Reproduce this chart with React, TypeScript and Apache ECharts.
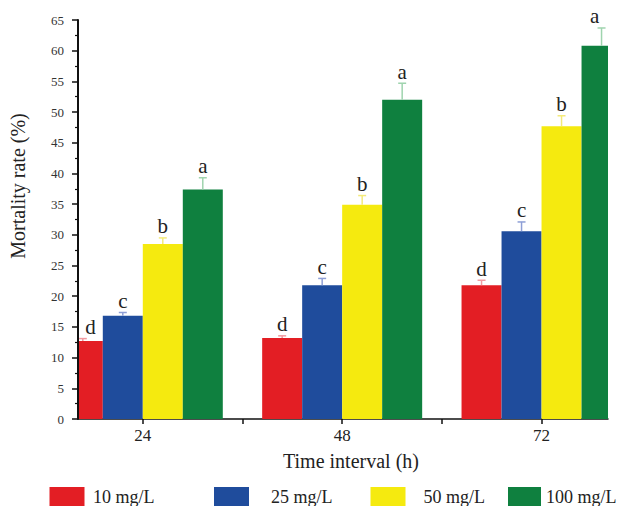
import React, { useEffect, useRef } from "react";
import * as echarts from "echarts";

const categories = [24, 48, 72];
const seriesNames = ["10 mg/L", "25 mg/L", "50 mg/L", "100 mg/L"];
const values10 = [12.7, 13.2, 21.8];
const values25 = [16.8, 21.8, 30.6];
const values50 = [28.5, 34.9, 47.7];
const values100 = [37.4, 52.0, 60.8];
const errors10 = [0.4, 0.35, 0.8];
const errors25 = [0.55, 1.1, 1.5];
const errors50 = [1.0, 1.5, 1.7];
const errors100 = [1.9, 2.7, 2.9];
const letters10 = ["d", "d", "d"];
const letters25 = ["c", "c", "c"];
const letters50 = ["b", "b", "b"];
const letters100 = ["a", "a", "a"];
const yTicks = { min: 0, max: 65, interval: 5 };
const xLabelValues = [24, 48, 72];
const xTickValues = [24, 36, 48, 60, 72];

const allValues = [values10, values25, values50, values100];
const allErrors = [errors10, errors25, errors50, errors100];
const allLetters = [letters10, letters25, letters50, letters100];
const barColors = ["#e31e24", "#1f4c9c", "#f5ea0f", "#0f803f"];
const errColors = ["#f19aa0", "#8e9fd6", "#f3ea7a", "#9fd4ae"];
const offsets = [-60, -20, 20, 60];
const BAR_W = 40;
const serif = "'Liberation Serif', 'Times New Roman', serif";

export default function App() {
  const ref = useRef<HTMLDivElement>(null);
  useEffect(() => {
    if (!ref.current) return;
    const chart = echarts.init(ref.current, null, { renderer: "svg" });

    const barSeries = seriesNames.map((name, s) => ({
      name,
      type: "custom",
      clip: true,
      z: 2,
      itemStyle: { color: barColors[s] },
      data: categories.map((c, i) => [c, allValues[s][i]]),
      renderItem: (params: any, api: any) => {
        const x = api.value(0);
        const y = api.value(1);
        const base = api.coord([x, 0]);
        const top = api.coord([x, y]);
        const cx = base[0] + offsets[s];
        return {
          type: "rect",
          shape: { x: cx - BAR_W / 2, y: top[1], width: BAR_W, height: base[1] - top[1] },
          style: { fill: barColors[s] },
        };
      },
    }));

    const errSeries = seriesNames.map((name, s) => ({
      name: name + " err",
      type: "custom",
      clip: false,
      z: 5,
      data: categories.map((c, i) => [c, allValues[s][i], allErrors[s][i]]),
      renderItem: (params: any, api: any) => {
        const x = api.value(0);
        const y = api.value(1);
        const e = api.value(2);
        const base = api.coord([x, y]);
        const top = api.coord([x, y + e]);
        const cx = base[0] + offsets[s];
        const left = Math.max(cx - BAR_W / 2, params.coordSys.x);
        const right = Math.min(cx + BAR_W / 2, params.coordSys.x + params.coordSys.width);
        const lx = (left + right) / 2;
        const letter = allLetters[s][params.dataIndex];
        return {
          type: "group",
          children: [
            {
              type: "line",
              shape: { x1: cx, y1: base[1], x2: cx, y2: top[1] },
              style: { stroke: errColors[s], lineWidth: 1.5 },
            },
            {
              type: "line",
              shape: { x1: cx - 4, y1: top[1], x2: cx + 4, y2: top[1] },
              style: { stroke: errColors[s], lineWidth: 1.5 },
            },
            {
              type: "text",
              x: lx,
              y: top[1] - 1,
              style: {
                text: letter,
                align: "center",
                verticalAlign: "bottom",
                fontSize: 21,
                fontFamily: serif,
                fill: "#222",
              },
            },
          ],
        };
      },
    }));

    const legendLefts = [49.5, 214, 370.5, 508];
    const legendWidths = [35, 35, 35, 33];
    const legendPads = [3.5, 17, 13, 0];

    chart.setOption({
      animation: false,
      backgroundColor: "#ffffff",
      grid: { left: 78, right: 9, top: 20, bottom: 87 },
      legend: seriesNames.map((name, s) => ({
        data: [name],
        left: legendLefts[s],
        top: 487,
        padding: 0,
        icon: "rect",
        itemWidth: legendWidths[s],
        itemHeight: 20,
        selectedMode: false,
        itemStyle: { color: barColors[s] },
        textStyle: {
          fontSize: 18,
          fontFamily: serif,
          color: "#222",
          padding: [0, 0, 0, legendPads[s]],
        },
      })),
      xAxis: {
        type: "value",
        min: 16.2,
        max: 80,
        name: "Time interval (h)",
        nameLocation: "middle",
        nameGap: 32,
        nameTextStyle: {
          fontSize: 20,
          fontFamily: serif,
          color: "#222",
          padding: [0, 0, 0, 16],
        },
        axisLine: { show: true, onZero: false, lineStyle: { color: "#111", width: 1.5 } },
        axisTick: { show: true, customValues: xTickValues, length: 5, lineStyle: { color: "#111", width: 1.5 } },
        axisLabel: {
          customValues: xLabelValues,
          fontSize: 17,
          fontFamily: serif,
          color: "#222",
          margin: 8,
        },
        splitLine: { show: false },
      },
      yAxis: {
        type: "value",
        min: yTicks.min,
        max: yTicks.max,
        interval: yTicks.interval,
        z: 10,
        axisLine: { show: true, lineStyle: { color: "#111", width: 2 } },
        axisTick: { show: true, length: 6, lineStyle: { color: "#111", width: 1.5 } },
        minorTick: { show: true, splitNumber: 2, length: 3, lineStyle: { color: "#111", width: 1.2 } },
        axisLabel: { fontSize: 13, fontFamily: serif, color: "#333", margin: 14 },
        splitLine: { show: false },
        minorSplitLine: { show: false },
      },
      graphic: [
        {
          type: "text",
          x: 18,
          y: 186,
          rotation: Math.PI / 2,
          style: {
            text: "Mortality rate (%)",
            align: "center",
            verticalAlign: "middle",
            fontSize: 20,
            fontFamily: serif,
            fill: "#222",
          },
        },
      ],
      series: [...barSeries, ...errSeries],
    });
    return () => chart.dispose();
  }, []);
  return (
    <div
      ref={ref}
      style={{ position: "fixed", left: 0, top: 0, width: 617, height: 506 }}
    />
  );
}
